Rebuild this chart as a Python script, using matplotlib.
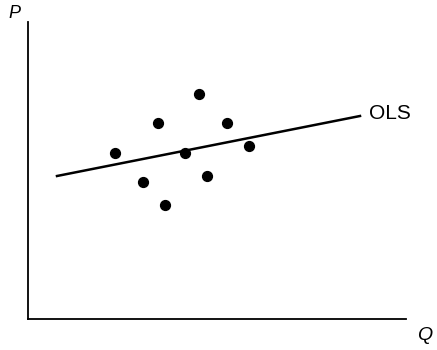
import matplotlib
matplotlib.use("Agg")
import matplotlib.pyplot as plt

# scatter points (Q, P)
q = [87, 130, 171, 199, 157, 221, 115, 179, 137]
p = [166, 196, 225, 196, 166, 173, 137, 143, 114]

# OLS fitted line end points
line_q = [29, 332]
line_p = [143, 203]

plt.rcParams["font.family"] = ["Liberation Sans", "DejaVu Sans"]

fig = plt.figure(figsize=(4.37, 3.5), dpi=100)
ax = fig.add_axes([28 / 437, 31 / 350, 378 / 437, 297 / 350])

ax.scatter(q, p, s=50, color="black", zorder=3)
ax.plot(line_q, line_p, color="black", lw=1.8)
ax.text(line_q[1] + 9, line_p[1] + 3, "OLS", fontsize=15, va="center", ha="left")

ax.set_xlim(0, 378)
ax.set_ylim(0, 297)
ax.set_xticks([])
ax.set_yticks([])
for s in ["top", "right"]:
    ax.spines[s].set_visible(False)
for s in ["left", "bottom"]:
    ax.spines[s].set_linewidth(1.3)

fig.text(14 / 437, 1 - 14 / 350, "P", fontsize=13, style="italic", ha="center", va="center")
fig.text(425 / 437, 1 - 335 / 350, "Q", fontsize=14, style="italic", ha="center", va="center")

fig.savefig("out.png", dpi=100)
